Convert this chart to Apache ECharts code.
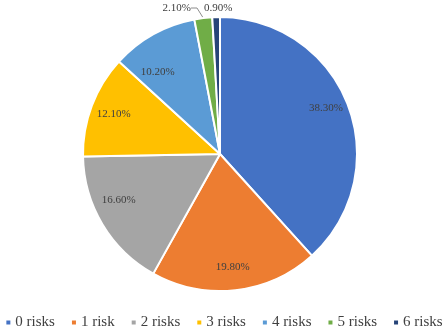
<!DOCTYPE html>
<html><head><meta charset="utf-8">
<script src="https://cdn.jsdelivr.net/npm/echarts@6/dist/echarts.min.js"></script>
<style>html,body{margin:0;padding:0;background:#fff}#c{width:447px;height:332px}</style>
</head><body><div id="c"></div>
<script>
const categories = ['0 risks','1 risk','2 risks','3 risks','4 risks','5 risks','6 risks'];
const values = [38.3, 19.8, 16.6, 12.1, 10.2, 2.1, 0.9];
const labels = ['38.30%','19.80%','16.60%','12.10%','10.20%','2.10%','0.90%'];
const colors = ['#4472C4','#ED7D31','#A5A5A5','#FFC000','#5B9BD5','#70AD47','#264478'];
const FONT = '"Liberation Serif", "Times New Roman", serif';
const smallIdx = [5, 6];

// label fine-tuning (layout only)
const insideShift = { 0: [0, -5], 2: [-4, -12], 4: [-7, 17] };
const outsidePos = { 5: [191, 8, 'right'], 6: [204, 8, 'left'] };

const chart = echarts.init(document.getElementById('c'));
const baseData = categories.map((n, i) => ({
  name: n, value: values[i], itemStyle: { color: colors[i] },
  label: smallIdx.includes(i) ? {
    show: true, position: 'outside', formatter: labels[i],
    fontFamily: FONT, fontSize: 11, color: '#404040'
  } : { show: false },
  labelLine: i === 5 ? { show: true, length: 6, length2: 6, lineStyle: { color: '#8c8c8c', width: 1 } } : { show: false, length: 4, length2: 4 }
}));
const overlayData = categories.map((n, i) => ({
  name: n, value: values[i],
  label: { show: !smallIdx.includes(i), formatter: labels[i] }
}));

chart.setOption({
  animation: false,
  legend: {
    bottom: 2, left: 'center', padding: 0, itemWidth: 6, itemHeight: 6, itemGap: 15,
    icon: 'rect',
    textStyle: { fontFamily: FONT, fontSize: 15, color: '#404040', padding: [0, 0, 0, -1] },
    data: categories
  },
  series: [
    {
      type: 'pie', center: [220, 154], radius: [0, 137], startAngle: 90, clockwise: true,
      itemStyle: { borderColor: '#fff', borderWidth: 2 },
      avoidLabelOverlap: false,
      labelLayout: function (p) {
        const o = outsidePos[p.dataIndex];
        if (!o) return {};
        return { x: o[0], y: o[1], align: o[2], verticalAlign: 'middle' };
      },
      data: baseData
    },
    {
      type: 'pie', center: [220, 154], radius: [84, 137], startAngle: 90, clockwise: true,
      silent: true, legendHoverLink: false,
      itemStyle: { color: 'rgba(0,0,0,0)', borderWidth: 0 },
      label: { position: 'inside', fontFamily: FONT, fontSize: 11, color: '#404040' },
      labelLine: { show: false },
      labelLayout: function (p) {
        const s = insideShift[p.dataIndex];
        return s ? { dx: s[0], dy: s[1] } : {};
      },
      data: overlayData
    }
  ]
});
</script></body></html>
